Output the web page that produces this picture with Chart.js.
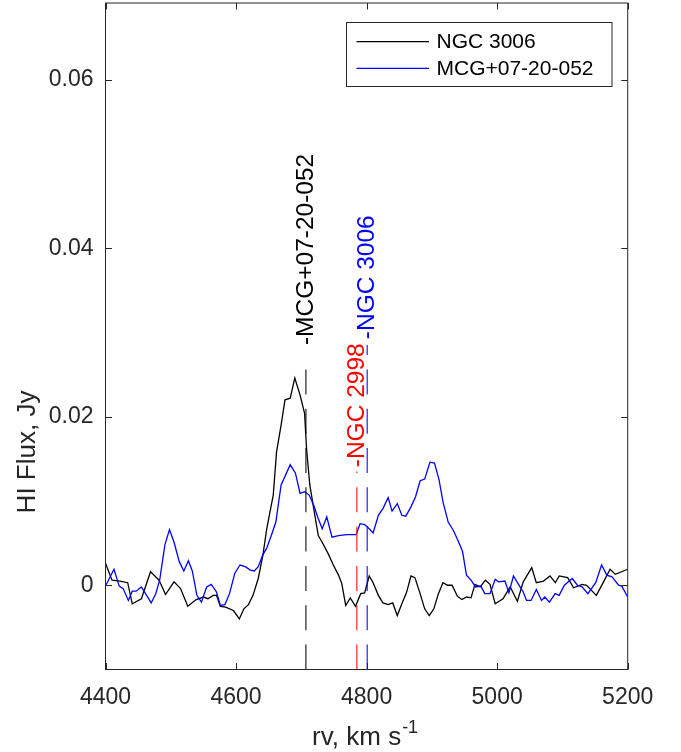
<!DOCTYPE html>
<html><head><meta charset="utf-8">
<script src="https://cdn.jsdelivr.net/npm/chart.js@4/dist/chart.umd.min.js"></script>
<style>html,body{margin:0;padding:0;background:#fff;}#wrap{width:681px;height:752px;position:relative;}</style>
</head><body><div id="wrap"><canvas id="c"></canvas></div>
<script>
// ---- data ----
const ngc3006Velocity = [4400,4410,4422,4434,4441,4455,4469,4482,4492,4505,4515,4526,4539,4550,4557,4565,4570,4576,4584,4596,4605,4612,4619,4626,4634,4641,4647,4652,4657,4662,4669,4675,4683,4690,4698,4705,4708,4713,4719,4726,4734,4742,4749,4757,4762,4768,4775,4783,4791,4797,4804,4810,4818,4825,4833,4840,4847,4854,4861,4868,4874,4882,4889,4896,4903,4910,4917,4924,4931,4939,4946,4953,4960,4966,4974,4982,4989,4997,5009,5020,5031,5040,5053,5060,5071,5081,5089,5095,5108,5117,5130,5137,5152,5163,5173,5181,5200];
const ngc3006Flux = [0.0026,0.0006,0.0005,0.0003,-0.0022,-0.0016,0.0016,0.0006,-0.0011,0.0004,-0.0004,-0.0025,-0.0017,-0.0014,-0.0016,-0.0012,-0.0012,-0.0025,-0.0026,-0.0030,-0.0040,-0.0028,-0.0023,-0.0012,0.0008,0.0035,0.0067,0.0087,0.0107,0.0158,0.0190,0.0220,0.0222,0.0246,0.0226,0.0204,0.0162,0.0119,0.0091,0.0059,0.0048,0.0036,0.0024,0.0012,0.0002,-0.0024,-0.0015,-0.0025,-0.0010,-0.0009,0.0011,0.0003,-0.0012,-0.0021,-0.0023,-0.0021,-0.0036,-0.0022,-0.0009,0.0011,0.0009,-0.0010,-0.0028,-0.0036,-0.0028,-0.0010,0.0003,0.0000,0.0000,-0.0013,-0.0017,-0.0014,-0.0015,0.0001,-0.0002,0.0006,0.0001,-0.0022,-0.0016,-0.0002,-0.0019,0.0004,0.0021,0.0003,0.0005,0.0011,0.0003,0.0011,0.0009,-0.0003,0.0001,0.0000,-0.0012,0.0004,0.0019,0.0013,0.0019];
const mcgVelocity = [4400,4413,4421,4427,4435,4441,4447,4455,4463,4470,4477,4483,4491,4498,4505,4513,4520,4527,4533,4540,4547,4555,4562,4570,4576,4583,4590,4598,4606,4614,4622,4628,4634,4641,4647,4654,4661,4669,4676,4683,4691,4698,4705,4712,4719,4725,4732,4739,4747,4757,4770,4784,4790,4797,4804,4810,4818,4825,4833,4839,4847,4854,4860,4868,4875,4882,4889,4897,4904,4911,4917,4925,4933,4940,4947,4953,4960,4967,4975,4981,4989,4997,5002,5012,5018,5025,5032,5040,5045,5052,5060,5068,5073,5080,5089,5095,5103,5115,5123,5130,5139,5151,5160,5168,5176,5186,5191,5200];
const mcgFlux = [-0.0001,0.0019,-0.0001,-0.0004,-0.0018,-0.0007,-0.0007,-0.0002,-0.0012,-0.0021,-0.0010,0.0006,0.0048,0.0066,0.0051,0.0028,0.0017,0.0029,0.0017,-0.0012,-0.0020,-0.0002,0.0001,-0.0008,-0.0024,-0.0023,-0.0010,0.0014,0.0024,0.0022,0.0018,0.0017,0.0022,0.0036,0.0044,0.0059,0.0075,0.0119,0.0131,0.0143,0.0133,0.0109,0.0111,0.0107,0.0095,0.0081,0.0067,0.0081,0.0057,0.0059,0.0060,0.0060,0.0073,0.0072,0.0067,0.0062,0.0083,0.0091,0.0104,0.0088,0.0097,0.0083,0.0082,0.0093,0.0105,0.0124,0.0126,0.0146,0.0145,0.0125,0.0099,0.0075,0.0065,0.0053,0.0040,0.0012,0.0006,-0.0002,-0.0001,-0.0010,-0.0010,0.0007,0.0004,0.0005,-0.0009,0.0011,0.0002,-0.0008,-0.0018,-0.0018,-0.0005,-0.0018,-0.0014,-0.0020,-0.0010,-0.0012,0.0000,0.0008,0.0000,-0.0002,-0.0010,0.0003,0.0024,0.0012,0.0010,0.0000,-0.0001,-0.0014];
const seriesNames = ['NGC 3006','MCG+07-20-052'];
const xTickValues = [4400,4600,4800,5000,5200];
const yTickValues = [0,0.02,0.04,0.06];
const markerNames = ['-MCG+07-20-052','-NGC 2998','-NGC 3006'];
const markerVelocity = [4707,4785,4801];
const markerLineTop = [0.027,0.0135,0.0285];
const markerLabelStart = [0.0285,0.0140,0.0292];

// ---- styling / construction ----
const AX = '#262626';
const FONT = "'Liberation Sans', Arial, Helvetica, sans-serif";
const markerColor = ['#000000','#ff0000','#0000ff'];
const markerLineColor = ['rgba(0,0,0,0.7)','rgba(255,0,0,0.7)','rgba(0,0,255,0.7)'];
Chart.defaults.font.family = FONT;
Chart.defaults.color = AX;

const pts = (xs, ys) => xs.map((x, i) => ({x, y: ys[i]}));
const datasets = [
  {label: seriesNames[0], data: pts(ngc3006Velocity, ngc3006Flux), borderColor: '#000000', borderWidth: 1.3, pointRadius: 0, tension: 0, order: 2, inLegend: true},
  {label: seriesNames[1], data: pts(mcgVelocity, mcgFlux), borderColor: '#0000ff', borderWidth: 1.3, pointRadius: 0, tension: 0, order: 1, inLegend: true}
];
markerNames.forEach((n, i) => {
  datasets.push({label: n, data: [{x: markerVelocity[i], y: -0.01}, {x: markerVelocity[i], y: markerLineTop[i]}],
    borderColor: markerLineColor[i], borderWidth: 1.5, borderDash: [25, 14.3], pointRadius: 0, order: 0, inLegend: false});
});

const framePlugin = {
  id: 'frame',
  afterDatasetsDraw(chart) {
    const {ctx, chartArea: a, scales: {x, y}} = chart;
    ctx.save();
    // annotations
    ctx.font = '24.5px ' + FONT;
    ctx.textAlign = 'left';
    ctx.textBaseline = 'middle';
    markerNames.forEach((n, i) => {
      ctx.save();
      ctx.translate(x.getPixelForValue(markerVelocity[i]), y.getPixelForValue(markerLabelStart[i]));
      ctx.rotate(-Math.PI / 2);
      ctx.fillStyle = markerColor[i];
      ctx.fillText(n, 0, 0);
      ctx.restore();
    });
    // box
    ctx.strokeStyle = AX;
    ctx.lineWidth = 1;
    ctx.strokeRect(a.left, a.top, a.right - a.left, a.bottom - a.top);
    // inward ticks
    const tl = 6.5;
    ctx.beginPath();
    xTickValues.forEach(v => {
      const px = Math.round(x.getPixelForValue(v)) + 0.5;
      ctx.moveTo(px, a.bottom); ctx.lineTo(px, a.bottom - tl);
      ctx.moveTo(px, a.top); ctx.lineTo(px, a.top + tl);
    });
    yTickValues.forEach(v => {
      const py = Math.round(y.getPixelForValue(v)) + 0.5;
      ctx.moveTo(a.left, py); ctx.lineTo(a.left + tl, py);
      ctx.moveTo(a.right, py); ctx.lineTo(a.right - tl, py);
    });
    ctx.stroke();
    // axis titles
    ctx.fillStyle = AX;
    ctx.font = '26px ' + FONT;
    const main = 'rv, km s', sup = '-1';
    const wMain = ctx.measureText(main).width;
    ctx.font = '18px ' + FONT;
    const wSup = ctx.measureText(sup).width;
    const cx = (a.left + a.right) / 2 - 2;
    let sx = cx - (wMain + wSup) / 2;
    ctx.textAlign = 'left'; ctx.textBaseline = 'alphabetic';
    ctx.font = '26px ' + FONT;
    ctx.fillText(main, sx, 745);
    ctx.font = '18px ' + FONT;
    ctx.fillText(sup, sx + wMain + 1, 733);
    ctx.save();
    ctx.translate(28, 452);
    ctx.rotate(-Math.PI / 2);
    ctx.font = '26px ' + FONT;
    ctx.textAlign = 'center'; ctx.textBaseline = 'middle';
    ctx.fillText('HI Flux, Jy', 0, 0);
    ctx.restore();
    // legend
    const lx = 346.5, ly = 22.5, lw = 265.5, lh = 64;
    ctx.fillStyle = '#ffffff';
    ctx.fillRect(lx, ly, lw, lh);
    ctx.strokeStyle = AX; ctx.lineWidth = 1;
    ctx.strokeRect(lx, ly, lw, lh);
    const items = chart.data.datasets.filter(d => d.inLegend);
    const rows = [41.7, 68.3];
    ctx.font = '21px ' + FONT;
    ctx.textAlign = 'left'; ctx.textBaseline = 'middle';
    items.forEach((d, i) => {
      ctx.strokeStyle = d.borderColor; ctx.lineWidth = d.borderWidth;
      ctx.beginPath(); ctx.moveTo(356.5, rows[i]); ctx.lineTo(429, rows[i]); ctx.stroke();
      ctx.fillStyle = '#000000';
      ctx.fillText(d.label, 436.5, rows[i] + 1);
    });
    ctx.restore();
  }
};

const noPad = s => { s.paddingTop = 0; s.paddingBottom = 0; s.paddingLeft = 0; s.paddingRight = 0; };

new Chart(document.getElementById('c'), {
  type: 'line',
  data: {datasets},
  options: {
    responsive: true, maintainAspectRatio: false, animation: false,
    layout: {padding: {top: 3, right: 53.3, left: 0, bottom: 0}},
    plugins: {legend: {display: false}, tooltip: {enabled: false}},
    scales: {
      x: {type: 'linear', min: 4400, max: 5200,
        grid: {display: false, drawTicks: false}, border: {display: false},
        afterBuildTicks: s => { s.ticks = xTickValues.map(v => ({value: v})); },
        afterFit: s => { s.height = 82.5; noPad(s); },
        ticks: {padding: 14, color: AX, font: {size: 23}, maxRotation: 0, callback: v => String(v)}},
      y: {type: 'linear', min: -0.01, max: 0.0691,
        grid: {display: false, drawTicks: false}, border: {display: false},
        afterBuildTicks: s => { s.ticks = yTickValues.map(v => ({value: v})); },
        afterFit: s => { s.width = 105.5; noPad(s); },
        ticks: {padding: 12, color: AX, font: {size: 23}, callback: v => v === 0 ? '0' : v.toFixed(2)}}
    }
  },
  plugins: [framePlugin]
});
</script></body></html>
